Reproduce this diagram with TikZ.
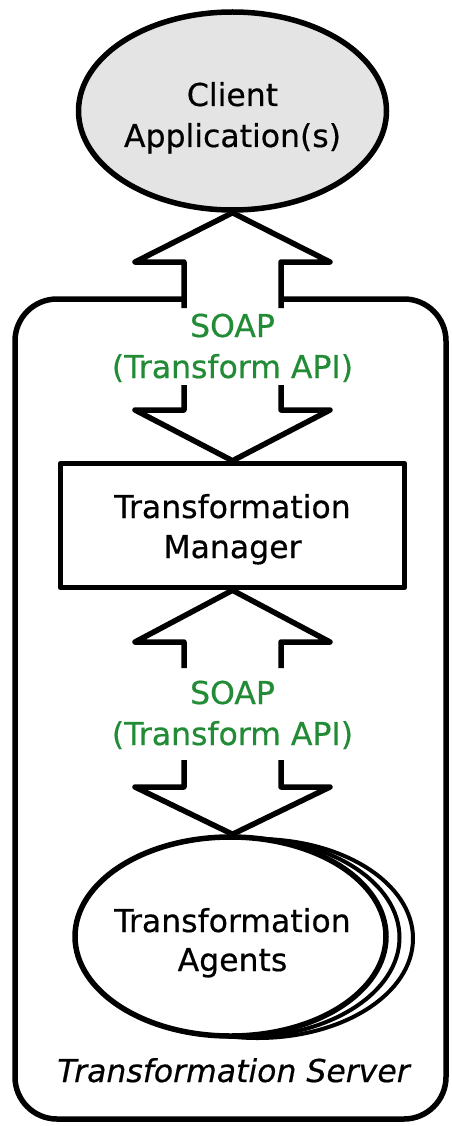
\documentclass[tikz,border=0pt]{standalone}
\usepackage{fontspec}
\setmainfont{DejaVu Sans}[FakeBold=0.5]
\usetikzlibrary{shapes.geometric}
\definecolor{soapgreen}{RGB}{34,139,54}
\definecolor{clientgray}{RGB}{228,228,228}
\tikzset{
  lw/.style={line width=5.5pt, line join=round},
  thinlw/.style={line width=4pt},
  lbl/.style={inner sep=0pt, anchor=base, font=\fontsize{31.5}{40}\selectfont},
  soap/.style={lbl, text=soapgreen},
  blockarrow/.style={lw, draw=black}
}
\begin{document}
\begin{tikzpicture}[x=1pt, y=-1pt]
\useasboundingbox (0,0) rectangle (451,1126);
% Client application
\node[ellipse, lw, draw, fill=clientgray, minimum width=308pt, minimum height=198pt, inner sep=0pt] (client) at (232.5,111) {};
\node[lbl] (clientA) at (232.5,106) {Client};
\node[lbl] (clientB) at (232.5,147) {Application(s)};
% Server box (open between the arrow shafts)
\coordinate (srvL) at (184,299);
\coordinate (srvR) at (281,299);
\draw[lw, rounded corners=42pt] (srvL) -- (15,299) -- (15,1119) -- (446,1119) -- (446,299) -- (srvR);
% Transformation manager
\node[rectangle, lw, draw, fill=white, minimum width=344pt, minimum height=124pt, inner sep=0pt] (mgr) at (232.5,525.5) {};
\node[lbl] (mgrA) at (232.5,518) {Transformation};
\node[lbl] (mgrB) at (232.5,558) {Manager};
% Transformation agents (stacked)
\node[ellipse, thinlw, draw, fill=white, minimum width=311pt, minimum height=199pt, inner sep=0pt] (agent3) at (257.5,938.5) {};
\node[ellipse, thinlw, draw, fill=white, minimum width=311pt, minimum height=199pt, inner sep=0pt] (agent2) at (244,937.5) {};
\node[ellipse, lw, draw, fill=white, minimum width=311pt, minimum height=199pt, inner sep=0pt] (agents) at (230.5,936.5) {};
\node[lbl] (agA) at (232.5,932) {Transformation};
\node[lbl] (agB) at (232.5,971) {Agents};
\node[lbl, font=\fontsize{31.5}{40}\selectfont\itshape] (server) at (233.5,1082) {Transformation Server};
% SOAP labels
\node[soap] (soap1a) at (232.5,337) {SOAP};
\node[soap] (soap1b) at (232.5,378) {(Transform API)};
\node[soap] (soap2a) at (232.5,704) {SOAP};
\node[soap] (soap2b) at (232.5,745) {(Transform API)};
% Arrow 1: up into client
\draw[blockarrow] (184,308) -- (184,262) -- (135,262) -- (client.south) -- (330,262) -- (281,262) -- (281,308);
% Arrow 1: down into manager
\draw[blockarrow] (184,385) -- (184,410) -- (135,410) -- (mgr.north) -- (330,410) -- (281,410) -- (281,385);
% Arrow 2: up into manager
\draw[blockarrow] (184,668) -- (184,642) -- (135,642) -- (mgr.south) -- (330,642) -- (281,642) -- (281,668);
% Arrow 2: down into agents
\draw[blockarrow] (184,760) -- (184,787) -- (135,787) -- (agents.north -| mgr.south) -- (330,787) -- (281,787) -- (281,760);
\end{tikzpicture}
\end{document}
